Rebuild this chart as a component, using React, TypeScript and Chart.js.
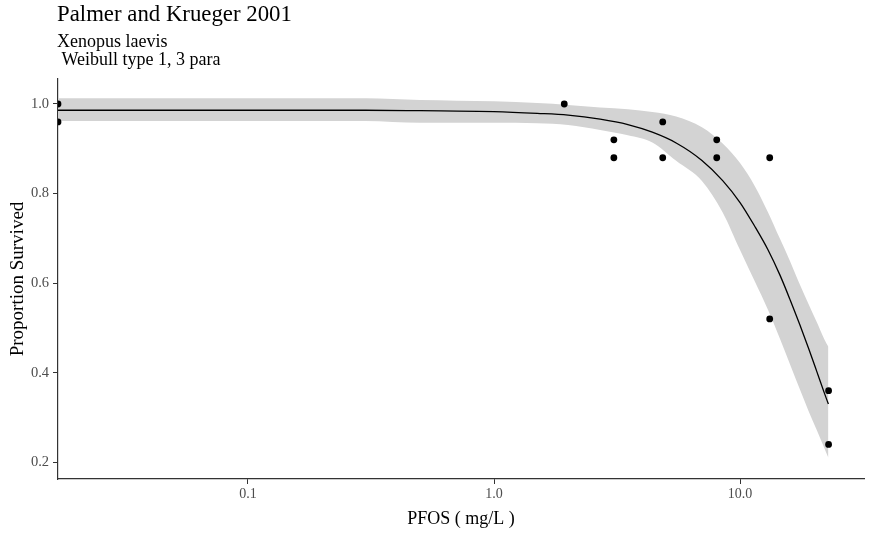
import React, { useEffect, useRef } from "react";
import { Chart, registerables } from "chart.js";

Chart.register(...registerables);

// observed data (dose 0 = control, drawn at the left edge)
const doses = [0, 0, 1.93, 3.07, 3.07, 4.85, 4.85, 8.04, 8.04, 13.2, 13.2, 22.9, 22.9];
const survival = [1.0, 0.96, 1.0, 0.92, 0.88, 0.96, 0.88, 0.92, 0.88, 0.88, 0.52, 0.36, 0.24];

// fitted Weibull curve and confidence band
const curveDose = [0.0169, 0.1, 0.3, 0.5, 1.0, 1.5, 2.0, 2.7, 3.5, 4.4, 5.5, 7.0, 8.5, 10.0, 11.5, 13.0, 14.5, 16.0, 17.5, 19.0, 20.5, 22.0, 22.86];
const curveFit = [0.986, 0.986, 0.986, 0.985, 0.983, 0.979, 0.975, 0.966, 0.954, 0.937, 0.913, 0.874, 0.829, 0.78, 0.726, 0.674, 0.619, 0.562, 0.507, 0.454, 0.403, 0.355, 0.33];
const ciUpper = [1.013, 1.013, 1.013, 1.009, 1.006, 1.002, 0.998, 0.992, 0.988, 0.982, 0.972, 0.948, 0.912, 0.868, 0.816, 0.758, 0.7, 0.648, 0.597, 0.553, 0.513, 0.475, 0.458];
const ciLower = [0.962, 0.962, 0.962, 0.958, 0.958, 0.957, 0.953, 0.942, 0.93, 0.914, 0.873, 0.828, 0.758, 0.674, 0.603, 0.54, 0.477, 0.417, 0.363, 0.314, 0.272, 0.232, 0.21];

const xTicks = [0.1, 1, 10];
const xTickLabels = ["0.1", "1.0", "10.0"];
const yTicks = [0.2, 0.4, 0.6, 0.8, 1.0];
const yTickLabels = ["0.2", "0.4", "0.6", "0.8", "1.0"];

const titleText = "Palmer and Krueger 2001";
const subtitleLines = ["Xenopus laevis", " Weibull type 1, 3 para"];
const xTitle = "PFOS ( mg/L )";
const yTitle = "Proportion Survived";

const X_MIN = 0.0169;
const X_MAX = 31.9;
const Y_MIN = 0.1627;
const Y_MAX = 1.0558;

const FONT = "'Liberation Serif', 'Times New Roman', serif";

const textPlugin = {
  id: "textPlugin",
  afterDraw(chart: any) {
    const ctx = chart.ctx;
    const area = chart.chartArea;
    ctx.save();
    ctx.fillStyle = "#000";
    ctx.textAlign = "left";
    ctx.textBaseline = "alphabetic";
    ctx.font = `22.8px ${FONT}`;
    ctx.fillText(titleText, 57, 21);
    ctx.font = `18px ${FONT}`;
    ctx.fillText(subtitleLines[0], 57, 46.5);
    ctx.fillText(subtitleLines[1], 57, 65);
    ctx.textAlign = "center";
    ctx.textBaseline = "middle";
    ctx.fillText(xTitle, (area.left + area.right) / 2, 519);
    ctx.font = `19px ${FONT}`;
    ctx.translate(18, (area.top + area.bottom) / 2);
    ctx.rotate(-Math.PI / 2);
    ctx.fillText(yTitle, 0, 0);
    ctx.restore();
  },
};

export default function App() {
  const ref = useRef<HTMLCanvasElement>(null);

  useEffect(() => {
    if (!ref.current) return;
    const pts = doses.map((d, i) => ({ x: d === 0 ? X_MIN : d, y: survival[i] }));
    const fit = curveDose.map((d, i) => ({ x: d, y: curveFit[i] }));
    const up = curveDose.map((d, i) => ({ x: d, y: ciUpper[i] }));
    const lo = curveDose.map((d, i) => ({ x: d, y: ciLower[i] }));

    const chart = new Chart(ref.current, {
      type: "scatter",
      data: {
        datasets: [
          {
            label: "observed",
            data: pts,
            pointRadius: 3.4,
            pointBackgroundColor: "#000",
            pointBorderWidth: 0,
            showLine: false,
          },
          {
            label: "fit",
            data: fit,
            showLine: true,
            borderColor: "#000",
            borderWidth: 1.3,
            pointRadius: 0,
            cubicInterpolationMode: "monotone",
          },
          {
            label: "lower",
            data: lo,
            showLine: true,
            borderWidth: 0,
            borderColor: "rgba(0,0,0,0)",
            pointRadius: 0,
            cubicInterpolationMode: "monotone",
          },
          {
            label: "upper",
            data: up,
            showLine: true,
            borderWidth: 0,
            borderColor: "rgba(0,0,0,0)",
            pointRadius: 0,
            backgroundColor: "rgb(211,211,211)",
            fill: "-1",
            cubicInterpolationMode: "monotone",
          },
        ],
      } as any,
      options: {
        responsive: false,
        animation: false,
        layout: { padding: { top: 79, right: 6, left: 0, bottom: 0 } },
        plugins: {
          legend: { display: false },
          title: { display: false },
          tooltip: { enabled: false },
        },
        scales: {
          x: {
            type: "logarithmic",
            min: X_MIN,
            max: X_MAX,
            afterBuildTicks: (s: any) => {
              s.ticks = xTicks.map((v) => ({ value: v }));
            },
            afterFit: (s: any) => {
              s.height = 54;
            },
            ticks: {
              autoSkip: false,
              maxRotation: 0,
              padding: 2,
              color: "#4d4d4d",
              font: { family: FONT, size: 14 },
              callback: (_v: any, i: number) => xTickLabels[i],
            },
            grid: { drawOnChartArea: false, drawTicks: true, tickLength: 5, color: "#333" },
            border: { display: true, color: "#333", width: 1.2 },
          },
          y: {
            type: "linear",
            min: Y_MIN,
            max: Y_MAX,
            afterBuildTicks: (s: any) => {
              s.ticks = yTicks.map((v) => ({ value: v }));
            },
            afterFit: (s: any) => {
              s.width = 58;
            },
            ticks: {
              autoSkip: false,
              padding: 4,
              color: "#4d4d4d",
              font: { family: FONT, size: 14.5 },
              callback: (_v: any, i: number) => yTickLabels[i],
            },
            grid: { drawOnChartArea: false, drawTicks: true, tickLength: 5, color: "#333" },
            border: { display: true, color: "#333", width: 1.2 },
          },
        },
      } as any,
      plugins: [textPlugin],
    });
    return () => chart.destroy();
  }, []);

  return (
    <div style={{ position: "absolute", left: 0, top: 0, width: 870, height: 533, background: "#fff" }}>
      <canvas ref={ref} width={870} height={533} />
    </div>
  );
}
